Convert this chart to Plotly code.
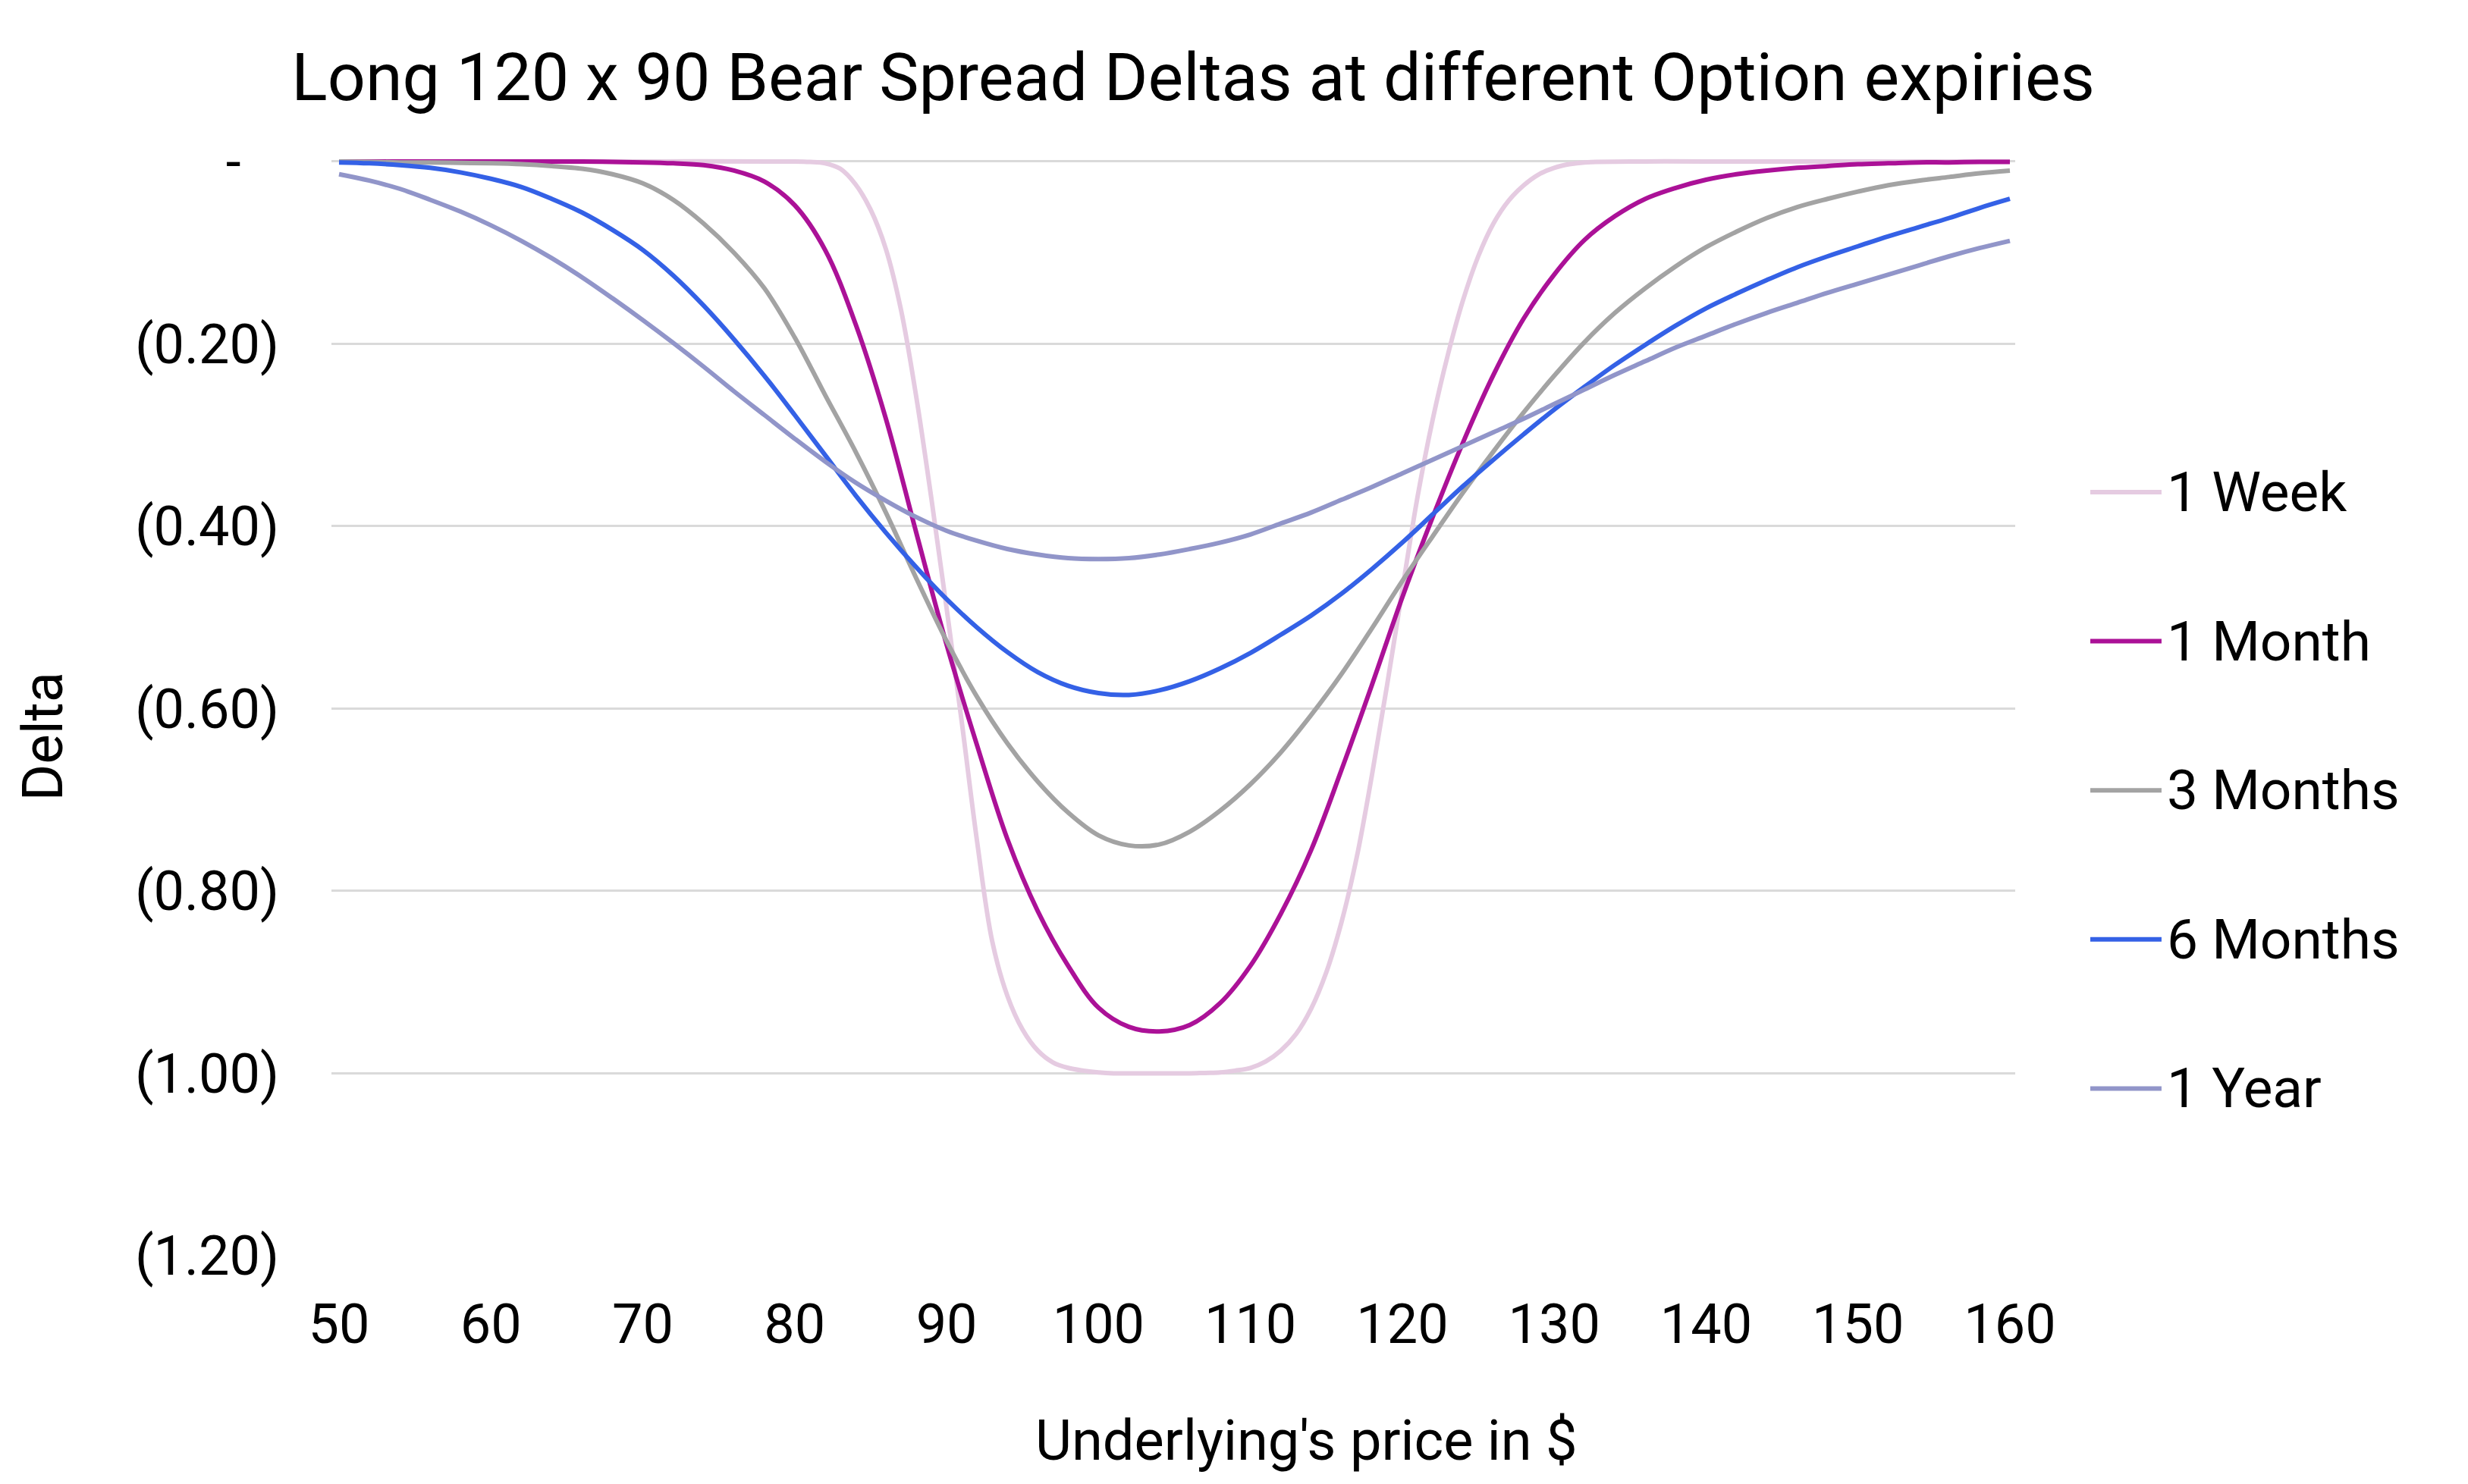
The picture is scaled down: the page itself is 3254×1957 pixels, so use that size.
import plotly.graph_objects as go

# underlying price grid (every $2) used by the longer expiries
PRICE = [50, 52, 54, 56, 58, 60, 62, 64, 66, 68,
         70, 72, 74, 76, 78, 80, 82, 84, 86, 88,
         90, 92, 94, 96, 98, 100, 102, 104, 106, 108,
         110, 112, 114, 116, 118, 120, 122, 124, 126, 128,
         130, 132, 134, 136, 138, 140, 142, 144, 146, 148,
         150, 152, 154, 156, 158, 160]

# 1 week curve is steep, so it is read at every $1 around the strikes
WEEK_PRICE = [50, 60, 70, 80,
              81, 82, 83, 84, 85, 86, 87, 88, 89, 90,
              91, 92, 93, 94, 95, 96, 97, 98, 99, 100,
              101, 102, 103, 104, 105, 106, 107, 108, 109, 110,
              111, 112, 113, 114, 115, 116, 117, 118, 119, 120,
              121, 122, 123, 124, 125, 126, 127, 128, 129, 130,
              131, 132, 136, 140, 150, 160]

ONE_WEEK = [0, 0, 0, 0,
            -0.0005, -0.002, -0.008, -0.025, -0.053, -0.096, -0.163, -0.258, -0.370, -0.490,
            -0.615, -0.745, -0.855, -0.915, -0.952, -0.975, -0.988, -0.994, -0.997, -0.999,
            -1.0, -1.0, -1.0, -1.0, -1.0, -1.0, -0.9995, -0.999, -0.997, -0.994,
            -0.987, -0.975, -0.957, -0.929, -0.889, -0.834, -0.763, -0.673, -0.574, -0.470,
            -0.368, -0.283, -0.212, -0.152, -0.104, -0.068, -0.043, -0.026, -0.014, -0.007,
            -0.003, -0.001, 0, 0, 0, 0]

ONE_MONTH = [0, 0, 0, 0, 0, 0, 0, 0, 0, -0.0005,
             -0.001, -0.002, -0.004, -0.010, -0.022, -0.048, -0.097, -0.178, -0.282, -0.407,
             -0.530, -0.640, -0.743, -0.822, -0.882, -0.928, -0.949, -0.954, -0.947, -0.923,
             -0.882, -0.825, -0.755, -0.667, -0.574, -0.478, -0.390, -0.308, -0.234, -0.172,
             -0.124, -0.086, -0.060, -0.041, -0.029, -0.020, -0.014, -0.010, -0.007, -0.005,
             -0.003, -0.002, -0.001, -0.001, -0.0005, -0.0005]

THREE_MONTHS = [0, -0.0005, -0.001, -0.001, -0.0015, -0.002, -0.003, -0.005, -0.008, -0.014,
                -0.024, -0.042, -0.068, -0.100, -0.139, -0.193, -0.256, -0.318, -0.385, -0.457,
                -0.526, -0.587, -0.638, -0.680, -0.714, -0.739, -0.750, -0.749, -0.735, -0.712,
                -0.683, -0.648, -0.607, -0.562, -0.512, -0.460, -0.411, -0.363, -0.318, -0.275,
                -0.235, -0.198, -0.166, -0.139, -0.115, -0.094, -0.077, -0.062, -0.050, -0.041,
                -0.033, -0.026, -0.021, -0.017, -0.013, -0.010]

SIX_MONTHS = [-0.001, -0.002, -0.004, -0.007, -0.012, -0.019, -0.028, -0.041, -0.056, -0.075,
              -0.097, -0.125, -0.158, -0.195, -0.235, -0.278, -0.322, -0.366, -0.407, -0.445,
              -0.480, -0.511, -0.538, -0.560, -0.575, -0.583, -0.585, -0.580, -0.570, -0.556,
              -0.539, -0.519, -0.498, -0.474, -0.447, -0.418, -0.387, -0.356, -0.327, -0.299,
              -0.272, -0.247, -0.223, -0.201, -0.180, -0.161, -0.145, -0.130, -0.116, -0.104,
              -0.093, -0.082, -0.072, -0.062, -0.051, -0.041]

ONE_YEAR = [-0.014, -0.021, -0.030, -0.042, -0.055, -0.070, -0.087, -0.106, -0.127, -0.150,
            -0.174, -0.199, -0.225, -0.252, -0.278, -0.304, -0.329, -0.352, -0.372, -0.390,
            -0.405, -0.416, -0.425, -0.431, -0.435, -0.436, -0.435, -0.431, -0.425, -0.418,
            -0.409, -0.397, -0.385, -0.371, -0.357, -0.342, -0.327, -0.312, -0.297, -0.282,
            -0.266, -0.250, -0.234, -0.219, -0.204, -0.191, -0.178, -0.166, -0.155, -0.144,
            -0.134, -0.124, -0.114, -0.104, -0.095, -0.087]

SERIES_NAMES = ['1 Week', '1 Month', '3 Months', '6 Months', '1 Year']
SERIES_COLORS = ['#e5cbe1', '#ab1197', '#a3a3a3', '#3461e6', '#9195c9']

X_TICKS = [50, 60, 70, 80, 90, 100, 110, 120, 130, 140, 150, 160]
Y_TICKS = [0, -0.2, -0.4, -0.6, -0.8, -1.0, -1.2]
Y_TICK_TEXT = ['-\u00a0\u00a0\u2009', '(0.20)', '(0.40)', '(0.60)', '(0.80)', '(1.00)', '(1.20)']

FONT = 'Roboto'

xs = [WEEK_PRICE, PRICE, PRICE, PRICE, PRICE]
ys = [ONE_WEEK, ONE_MONTH, THREE_MONTHS, SIX_MONTHS, ONE_YEAR]

fig = go.Figure()

for name, color, x, y in zip(SERIES_NAMES, SERIES_COLORS, xs, ys):
    fig.add_trace(go.Scatter(
        x=x, y=y, name=name, mode='lines',
        line=dict(color=color, width=6, shape='spline', smoothing=1.0),
        showlegend=False
    ))

# Legend drawn by hand so the sample lines are as long as in the original
shapes = []
annotations = []
legendTop = 0.694
legendStep = 0.1355
for i, (name, color) in enumerate(zip(SERIES_NAMES, SERIES_COLORS)):
    yPos = legendTop - i * legendStep
    shapes.append(dict(type='line', xref='paper', yref='paper',
                       x0=1.0446, x1=1.0869, y0=yPos, y1=yPos,
                       line=dict(color=color, width=6)))
    annotations.append(dict(text=name, xref='paper', yref='paper',
                            x=1.089, y=yPos, xanchor='left', yanchor='middle',
                            showarrow=False, font=dict(family=FONT, size=73, color='black')))

# axis titles
annotations.append(dict(text='Delta', xref='paper', yref='paper', x=-0.1716, y=0.472,
                        xanchor='center', yanchor='middle', textangle=-90, showarrow=False,
                        font=dict(family=FONT, size=74, color='black')))
annotations.append(dict(text="Underlying's price in $", xref='paper', yref='paper', x=0.579, y=-0.1675,
                        xanchor='center', yanchor='middle', showarrow=False,
                        font=dict(family=FONT, size=74, color='black')))

# the page adds an 8px body margin, so the margins are pulled in by 8px
fig.update_layout(
    width=3254, height=1957,
    margin=dict(l=429, r=605, t=197, b=309),
    paper_bgcolor='white', plot_bgcolor='white',
    font=dict(family=FONT, size=72, color='black'),
    title=dict(text='Long 120 x 90 Bear Spread Deltas at different Option expiries',
               x=0.481, xanchor='center', xref='container',
               y=0.9525, yanchor='middle', yref='container',
               font=dict(family=FONT, size=88, color='black')),
    shapes=shapes,
    annotations=annotations,
    showlegend=False
)

fig.update_xaxes(range=[49.5, 160.35], tickvals=X_TICKS, showgrid=False, zeroline=False,
                 showline=False, ticks='', ticklabelstandoff=42,
                 tickfont=dict(family=FONT, size=72, color='black'))
fig.update_yaxes(range=[-1.2, 0.0066], tickvals=Y_TICKS, ticktext=Y_TICK_TEXT,
                 showgrid=True, gridcolor='#dadada', gridwidth=3, zeroline=False,
                 showline=False, ticks='', ticklabelstandoff=68,
                 tickfont=dict(family=FONT, size=72, color='black'))

fig.write_html('out.html')
